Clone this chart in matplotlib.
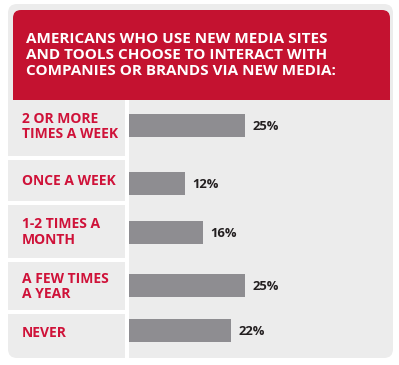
import numpy as np
import matplotlib.pyplot as plt
from matplotlib.patches import FancyBboxPatch, Rectangle

# --- Daten ---
title_lines = ["AMERICANS WHO USE NEW MEDIA SITES",
               "AND TOOLS CHOOSE TO INTERACT WITH",
               "COMPANIES OR BRANDS VIA NEW MEDIA:"]
categories = [["2 OR MORE", "TIMES A WEEK"],
              ["ONCE A WEEK"],
              ["1-2 TIMES A", "MONTH"],
              ["A FEW TIMES", "A YEAR"],
              ["NEVER"]]
values = [25, 12, 16, 25, 22]

# --- Layout (Pixel) ---
W, H = 399, 365
RED = '#c41230'
LABEL_RED = '#cf1239'
PANEL = '#ececec'
BAR = '#8e8d91'
FONT = 'Open Sans'

row_y = [125.3, 183.3, 232.5, 285.3, 330]          # Balkenmitte
cells = [(100, 156), (160, 201), (205, 258), (262, 310), (314, 358)]
label_base = [[122.7, 137.5], [185], [227.7, 244], [282.7, 298], [336.7]]
PX_PER_PCT = 4.63
BAR_X0 = 129

fig = plt.figure(figsize=(W / 100, H / 100), dpi=100)
fig.patch.set_facecolor('white')

bg = fig.add_axes([0, 0, 1, 1])
bg.set_xlim(0, W)
bg.set_ylim(H, 0)
bg.axis('off')

# äußere graue Box
bg.add_patch(FancyBboxPatch((8 + 9, 4 + 9), 393 - 8 - 18, 358 - 4 - 18,
                            boxstyle='round,pad=9', fc=PANEL, ec='none'))
# roter Kopf
bg.add_patch(FancyBboxPatch((13 + 8, 10 + 8), 390 - 13 - 16, 110 - 10 - 16,
                            boxstyle='round,pad=8', fc=RED, ec='none'))
bg.add_patch(Rectangle((8, 100), 385, 20, fc=PANEL, ec='none'))

# weiße Trennlinien
bg.add_patch(Rectangle((125, 100), 4, 258, fc='white', ec='none'))
for (top, bottom), nxt in zip(cells[:-1], cells[1:]):
    bg.add_patch(Rectangle((8, bottom), 117, nxt[0] - bottom, fc='white', ec='none'))

# Titel
for i, line in enumerate(title_lines):
    bg.text(25.5, 43.3 + i * 15.8, line, color='white', fontsize=11,
            fontweight='bold', family=FONT, va='baseline', ha='left')

# Kategorien
for lines, bases in zip(categories, label_base):
    for line, b in zip(lines, bases):
        bg.text(21.5, b, line, color=LABEL_RED, fontsize=10, fontweight='bold',
                family=FONT, va='baseline', ha='left')

# Balken
ax = fig.add_axes([BAR_X0 / W, 0, (W - BAR_X0) / W, 1])
ax.set_xlim(0, (W - BAR_X0) / PX_PER_PCT)
ax.set_ylim(H, 0)
ax.axis('off')
ax.barh(row_y, values, height=23, color=BAR, left=0)
for y, v in zip(row_y, values):
    ax.text(v + 1.65, y + 4.7, f"{v}%", color='#231f20', fontsize=9.4,
            fontweight='bold', family=FONT, va='baseline', ha='left')

fig.savefig('out.png', dpi=100)
